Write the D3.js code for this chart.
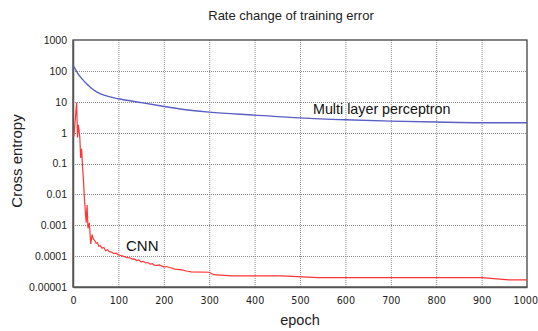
<!DOCTYPE html>
<html><head><meta charset="utf-8">
<script src="https://cdn.jsdelivr.net/npm/d3@7"></script>
<style>body{margin:0;background:#fff;} svg{display:block;}</style>
</head><body>
<svg id="c" width="538" height="331"></svg>
<script>
const xTicks = [0,100,200,300,400,500,600,700,800,900,1000];
const yTicks = [0.00001,0.0001,0.001,0.01,0.1,1,10,100,1000];
const yTickLabels = ["0.00001","0.0001","0.001","0.01","0.1","1","10","100","1000"];

const mlpEpoch = [0,5,10,20,30,40,52,70,100,148,192,236,300,400,500,600,700,800,900,1000];
const mlpLoss  = [150,115,85,55,38,28,21,16,12.5,9.5,7.4,5.8,4.6,3.7,3.0,2.6,2.35,2.2,2.1,2.1];

const cnnEpoch = [2,8,10,12,15,17,19,21,23,25,27,29,31,33,36,39,42,45,48,51,54,57,60,64,68,72,76,80,85,90,95,100,105,110,115,120,125,130,135,140,145,150,155,160,165,170,175,180,185,190,200,205,215,225,240,250,260,300,310,350,460,540,900,960,1000];
const cnnLoss  = [0.75,9.5,0.7,1.8,0.7,0.15,0.3,0.08,0.03,0.008,0.003,0.0012,0.0045,0.0008,0.0012,0.00025,0.0005,0.00035,0.00032,0.00026,0.00027,0.00021,0.00022,0.00018,0.00019,0.00015,0.00016,0.00014,0.000135,0.00012,0.000125,0.00011,0.000105,0.0001,0.000095,0.00009,0.000088,0.00008,0.000082,0.000072,0.000075,0.000065,0.000068,0.00006,0.000062,0.000055,0.000057,0.00005,0.00005,0.000052,0.000045,0.000046,0.000042,0.000038,0.000036,0.000033,0.000031,0.00003,0.000025,0.000023,0.000023,0.00002,0.00002,0.000017,0.000017];

const L = 73, R = 527, T = 40, B = 287;
const svg = d3.select("#c");
const x = d3.scaleLinear().domain([0,1000]).range([L,R]);
const y = d3.scaleLog().domain([0.00001,1000]).range([B,T]);

// grid
const g = svg.append("g");
g.selectAll(".vx").data(xTicks.slice(1,-1)).enter().append("line")
  .attr("x1",d=>x(d)+0.5).attr("x2",d=>x(d)+0.5).attr("y1",T).attr("y2",B)
  .attr("stroke","#8a8a8a").attr("stroke-dasharray","1,1").attr("stroke-width",1);
g.selectAll(".hy").data(yTicks.slice(1,-1)).enter().append("line")
  .attr("y1",d=>Math.round(y(d))+0.5).attr("y2",d=>Math.round(y(d))+0.5).attr("x1",L).attr("x2",R)
  .attr("stroke","#8a8a8a").attr("stroke-dasharray","1,1").attr("stroke-width",1);

// frame
svg.append("rect").attr("x",L).attr("y",T).attr("width",R-L).attr("height",B-T)
  .attr("fill","none").attr("stroke","#333").attr("stroke-width",1.2);

// axes
const xAxis = d3.axisBottom(x).tickValues(xTicks).tickSize(0).tickPadding(10).tickFormat(d3.format("d"));
const xa = svg.append("g").attr("transform",`translate(0,${B})`).call(xAxis);
xa.select(".domain").attr("stroke","#555").attr("stroke-width",1.5);
xa.selectAll("text").attr("font-family","DejaVu Sans, Verdana, sans-serif").attr("font-size",9.6).attr("fill","#222");
xa.selectAll(".tick").filter(d=>d===1000).select("text").attr("text-anchor","end").attr("dx",10.5);

const yAxis = d3.axisLeft(y).tickValues(yTicks).tickSize(0).tickPadding(6)
  .tickFormat((d,i)=>yTickLabels[i]);
const ya = svg.append("g").attr("transform",`translate(${L},0)`).call(yAxis);
ya.select(".domain").attr("stroke","#555").attr("stroke-width",1.5);
ya.selectAll("text").attr("font-family","Liberation Sans, Arial, sans-serif").attr("font-size",10.5).attr("fill","#222");

// lines
const line = d3.line().x(d=>x(d[0])).y(d=>y(d[1]));
svg.append("path").datum(mlpEpoch.map((e,i)=>[e,mlpLoss[i]]))
  .attr("d",line.curve(d3.curveMonotoneX)).attr("fill","none").attr("stroke","#5a5fc2").attr("stroke-width",1.4);
svg.append("path").datum(cnnEpoch.map((e,i)=>[e,cnnLoss[i]]))
  .attr("d",d3.line().x(d=>x(d[0])).y(d=>y(d[1]))).attr("fill","none").attr("stroke","#ff3535").attr("stroke-width",1.2);

// texts
svg.append("text").attr("x",291).attr("y",20).attr("text-anchor","middle")
  .attr("font-family","Liberation Sans, Arial, sans-serif").attr("font-size",13).attr("fill","#222")
  .text("Rate change of training error");
svg.append("text").attr("x",300).attr("y",325).attr("text-anchor","middle")
  .attr("font-family","Liberation Sans, Arial, sans-serif").attr("font-size",14.5).attr("fill","#222")
  .text("epoch");
svg.append("text").attr("transform","translate(22,161) rotate(-90)").attr("text-anchor","middle")
  .attr("font-family","Liberation Sans, Arial, sans-serif").attr("font-size",15).attr("fill","#222")
  .text("Cross entropy");
svg.append("text").attr("x",126).attr("y",251)
  .attr("font-family","Liberation Sans, Arial, sans-serif").attr("font-size",15).attr("fill","#111")
  .text("CNN");
svg.append("text").attr("x",313).attr("y",114)
  .attr("font-family","Liberation Sans, Arial, sans-serif").attr("font-size",14.3).attr("fill","#111")
  .text("Multi layer perceptron");
</script>
</body></html>
